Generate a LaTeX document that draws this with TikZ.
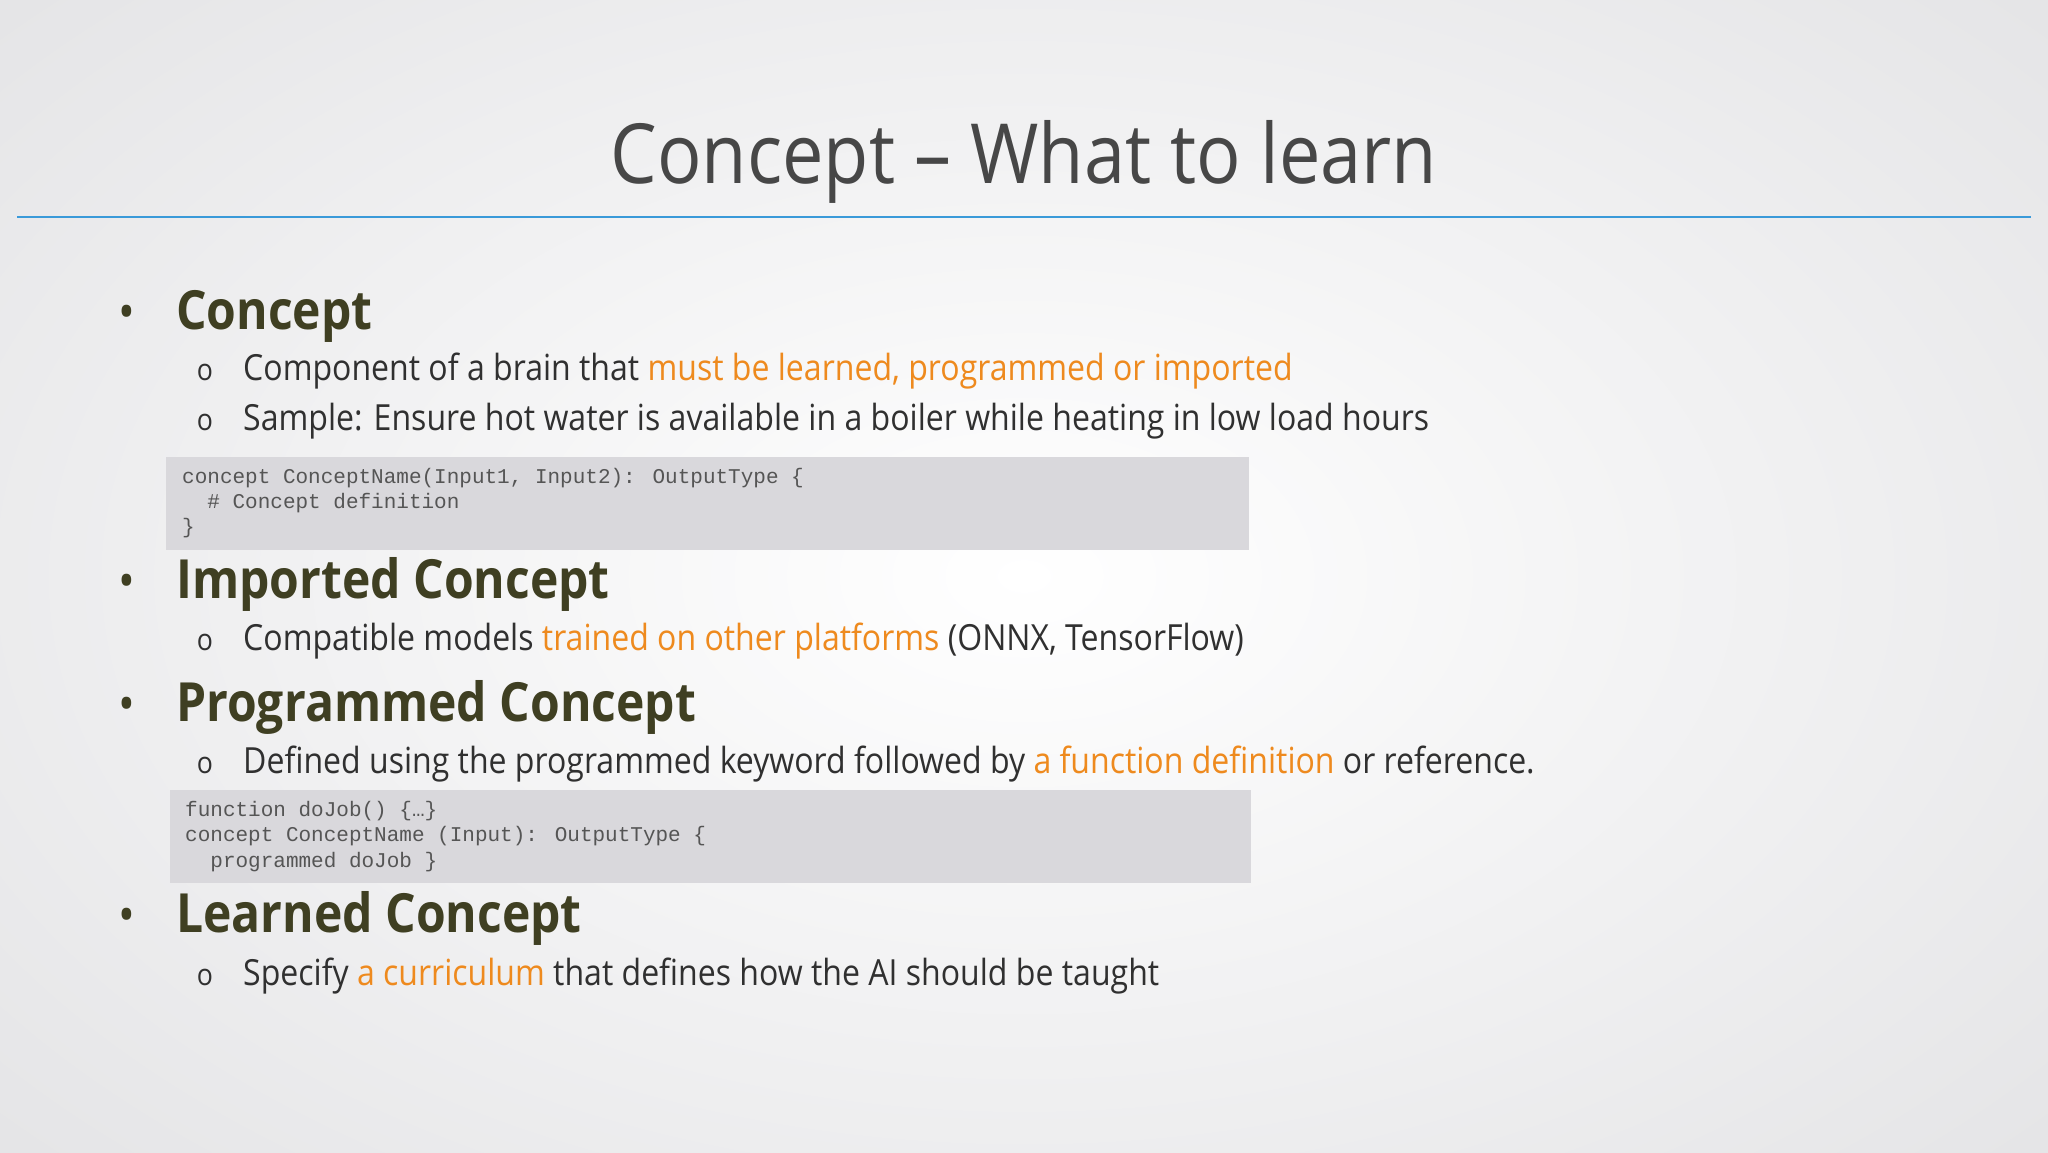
\documentclass[tikz,border=0pt]{standalone}
\usepackage{fontspec}
\setmainfont[FakeStretch=0.89]{Open Sans}
\newfontfamily\codefont{Liberation Mono}
\begin{document}
\begin{tikzpicture}[x=1pt,y=-1pt,
  txt/.style={anchor=base west,inner sep=0pt,text=bodyc,font=\fontsize{36}{40}\selectfont},
  head/.style={anchor=base west,inner sep=0pt,text=headc,font=\fontsize{54}{60}\selectfont\bfseries},
  code/.style={anchor=base west,inner sep=0pt,text=codec,font=\codefont\fontsize{21}{22}\selectfont},
  cbox/.style={fill=boxc,draw=none}]
\definecolor{headc}{HTML}{3F3F22}
\definecolor{bodyc}{HTML}{303030}
\definecolor{orng}{HTML}{EE8A1E}
\definecolor{boxc}{HTML}{D9D8DC}
\definecolor{codec}{HTML}{555555}
\definecolor{linec}{HTML}{3A9AD9}
\definecolor{bgc}{HTML}{E4E4E6}
\useasboundingbox (0,0) rectangle (2048,1152);
\shade[inner color=white,outer color=bgc] (-400,-300) rectangle (2448,1452);
\node[anchor=base,inner sep=0pt,text=black!72,font=\fontsize{83}{90}\selectfont] (title) at (1024,183) {Concept – What to learn};
\draw[linec,line width=1.5pt] (17,217) coordinate (l1) -- (2031,217) coordinate (l2);
% code boxes
\fill[boxc] (166,457) rectangle (1249,550);
\fill[boxc] (170,790) rectangle (1251,883);
% bullets
\foreach \y/\n in {329/a,598/b,721/c,932/d}{\node[anchor=base,inner sep=0pt,text=headc,font=\fontsize{50}{50}\selectfont] (b\n) at (127,\y) {•};}
\foreach \y/\n in {380/a,430/b,650/c,773/d,985/e}{\node[anchor=base,inner sep=0pt,text=bodyc,font=\fontsize{30}{30}\selectfont] (o\n) at (205,\y) {o};}
\node[head] (h1) at (176,329) {Concept};
\node[head] (h2) at (176,598) {Imported Concept};
\node[head] (h3) at (176,721) {Programmed Concept};
\node[head] (h4) at (176,932) {Learned Concept};
\node[txt] (t1) at (243,380) {Component of a brain that \textcolor{orng}{must be learned, programmed or imported}};
\node[txt] (t2) at (243,430) {Sample: Ensure hot water is available in a boiler while heating in low load hours};
\node[txt] (t3) at (243,650) {Compatible models \textcolor{orng}{trained on other platforms} (ONNX, TensorFlow)};
\node[txt] (t4) at (243,773) {Defined using the programmed keyword followed by \textcolor{orng}{a function definition} or reference.};
\node[txt] (t5) at (243,985) {Specify \textcolor{orng}{a curriculum} that defines how the AI should be taught};
\node[code] (c1) at (182,483) {concept ConceptName(Input1, Input2): OutputType \{};
\node[code] (c2) at (182,508) {\ \ \# Concept definition};
\node[code] (c3) at (182,533) {\}};
\node[code] (c4) at (185,816) {function doJob() \{…\}};
\node[code] (c5) at (185,841) {concept ConceptName (Input): OutputType \{};
\node[code] (c6) at (185,867) {\ \ programmed doJob \}};
\end{tikzpicture}
\end{document}
